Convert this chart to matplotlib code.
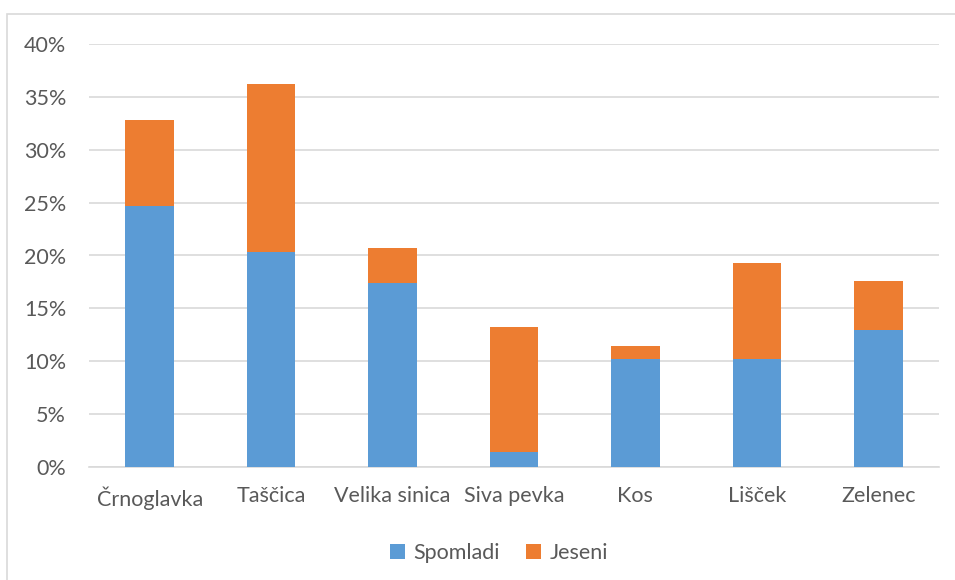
import matplotlib.pyplot as plt
from matplotlib.patches import Rectangle
from matplotlib.ticker import FuncFormatter

# bird species and share of catches (%) by season
species = ["Črnoglavka", "Taščica", "Velika sinica", "Siva pevka", "Kos", "Lišček", "Zelenec"]
spomladi = [24.7, 20.3, 17.4, 1.4, 10.2, 10.2, 13.0]
jeseni = [8.1, 15.9, 3.3, 11.8, 1.2, 9.1, 4.6]

BLUE = "#5B9BD5"
ORANGE = "#ED7D31"
GRID = "#D9D9D9"
TEXT = "#595959"

plt.rcParams["font.family"] = ["Lato", "DejaVu Sans"]

fig = plt.figure(figsize=(9.55, 5.8), dpi=100)
ax = fig.add_axes([89 / 955, 1 - 467 / 580, 850 / 955, 423 / 580])

# chart frame (only top and left edges fall inside the image)
fig.patches.append(Rectangle((7 / 955, -0.1), 1.2, 1 - 14 / 580 + 0.1,
                             transform=fig.transFigure, fill=False,
                             edgecolor=GRID, linewidth=1.2))

x = range(len(species))
ax.bar(x, spomladi, width=0.4, color=BLUE, label="Spomladi", zorder=3)
ax.bar(x, jeseni, width=0.4, bottom=spomladi, color=ORANGE, label="Jeseni", zorder=3)

ax.set_xlim(-0.5, len(species) - 0.5)
ax.set_ylim(0, 40)
ax.set_yticks(range(0, 41, 5))
ax.yaxis.set_major_formatter(FuncFormatter(lambda v, _: f"{v:.0f}%"))
ax.grid(axis="y", color=GRID, linewidth=1.2, zorder=0)
ax.set_xticks(list(x))
ax.set_xticklabels(species)

for side in ["top", "right", "left"]:
    ax.spines[side].set_visible(False)
ax.spines["bottom"].set_color(GRID)
ax.spines["bottom"].set_linewidth(1.2)
ax.tick_params(length=0, labelsize=15.5, colors=TEXT)
ax.tick_params(axis="y", pad=16.5)
ax.tick_params(axis="x", pad=14)

ax.legend(loc="upper center", bbox_to_anchor=(0.482, -0.135), ncol=2, frameon=False,
          fontsize=15.5, labelcolor=TEXT, handlelength=0.7, handleheight=0.7,
          handletextpad=0.4, columnspacing=1.2)

fig.savefig("out.png", dpi=100)
